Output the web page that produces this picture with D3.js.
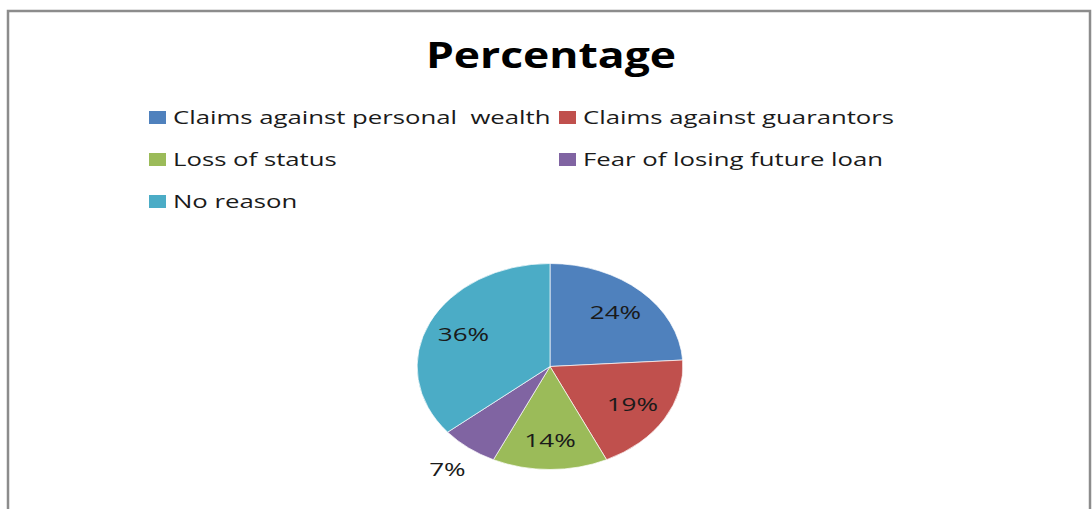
<!DOCTYPE html>
<html>
<head>
<meta charset="utf-8">
<script src="https://cdn.jsdelivr.net/npm/d3@7"></script>
<style>
  body { margin: 0; background: #fff; }
  svg text { font-family: "Open Sans", "DejaVu Sans", sans-serif; white-space: pre; }
</style>
</head>
<body>
<div id="chart"></div>
<script>
// chart data
var categories = [
    'Claims against personal  wealth',
    'Claims against guarantors',
    'Loss of status',
    'Fear of losing future loan',
    'No reason'
];
var values = [24, 19, 14, 7, 36];
var colors = ['#4f81bd', '#c0504d', '#9bbb59', '#8064a2', '#4bacc6'];
var chartTitle = 'Percentage';

var W = 1092, H = 509;
var stretch = 1.29;   // the original picture is squashed wider than tall

var svg = d3.select('#chart').append('svg')
    .attr('width', W).attr('height', H);

// outer frame
svg.append('rect')
    .attr('x', 8).attr('y', 11)
    .attr('width', 1082).attr('height', 520)
    .style('fill', 'none')
    .style('stroke', '#8c8c8c')
    .style('stroke-width', 2.5);

// title
svg.append('text')
    .attr('transform', 'translate(551,68) scale(1.27,1)')
    .style('text-anchor', 'middle')
    .style('font-weight', 'bold')
    .style('font-size', '35px')
    .style('fill', '#000')
    .text(chartTitle);

// legend, two columns
var legend = svg.append('g').classed('legend', true);
var items = legend.selectAll('g.item').data(categories)
    .enter().append('g').classed('item', true)
    .attr('transform', function(d, i){
        var x = (i % 2 == 0) ? 149 : 559;
        var y = 117 + Math.floor(i / 2) * 42;
        return 'translate(' + x + ',' + y + ')';
    });
items.append('rect')
    .attr('x', 0).attr('y', -6)
    .attr('width', 17).attr('height', 13)
    .style('fill', function(d, i){ return colors[i]; });
items.append('text')
    .attr('transform', 'translate(24,6.5) scale(1.43,1)')
    .style('font-size', '18px')
    .style('fill', '#1a1a1a')
    .text(function(d){ return d; });

// pie
var cx = 550, cy = 366.5, r = 103;
var pie = d3.pie().sort(null).value(function(d){ return d; });
var arcs = pie(values);
var arc = d3.arc().innerRadius(0).outerRadius(r);
var labelArc = d3.arc().innerRadius(r * 0.72).outerRadius(r * 0.72);
var outerArc = d3.arc().innerRadius(r * 1.26).outerRadius(r * 1.26);

var gpie = svg.append('g')
    .attr('transform', 'translate(' + cx + ',' + cy + ') scale(' + stretch + ',1)');
gpie.selectAll('path.slice').data(arcs)
    .enter().append('path').classed('slice', true)
    .attr('d', arc)
    .style('fill', function(d, i){ return colors[i]; })
    .style('stroke', '#fff')
    .style('stroke-width', 0.6);

// labels drawn unstretched but placed on the stretched pie
svg.selectAll('text.pctLabel').data(arcs)
    .enter().append('text').classed('pctLabel', true)
    .attr('transform', function(d){
        var c = (d.data < 10 ? outerArc : labelArc).centroid(d);
        return 'translate(' + (cx + c[0] * stretch) + ',' + (cy + c[1] + 6.5) + ') scale(1.45,1)';
    })
    .style('text-anchor', 'middle')
    .style('font-size', '18px')
    .style('fill', '#1a1a1a')
    .text(function(d){ return d.data + '%'; });
</script>
</body>
</html>
